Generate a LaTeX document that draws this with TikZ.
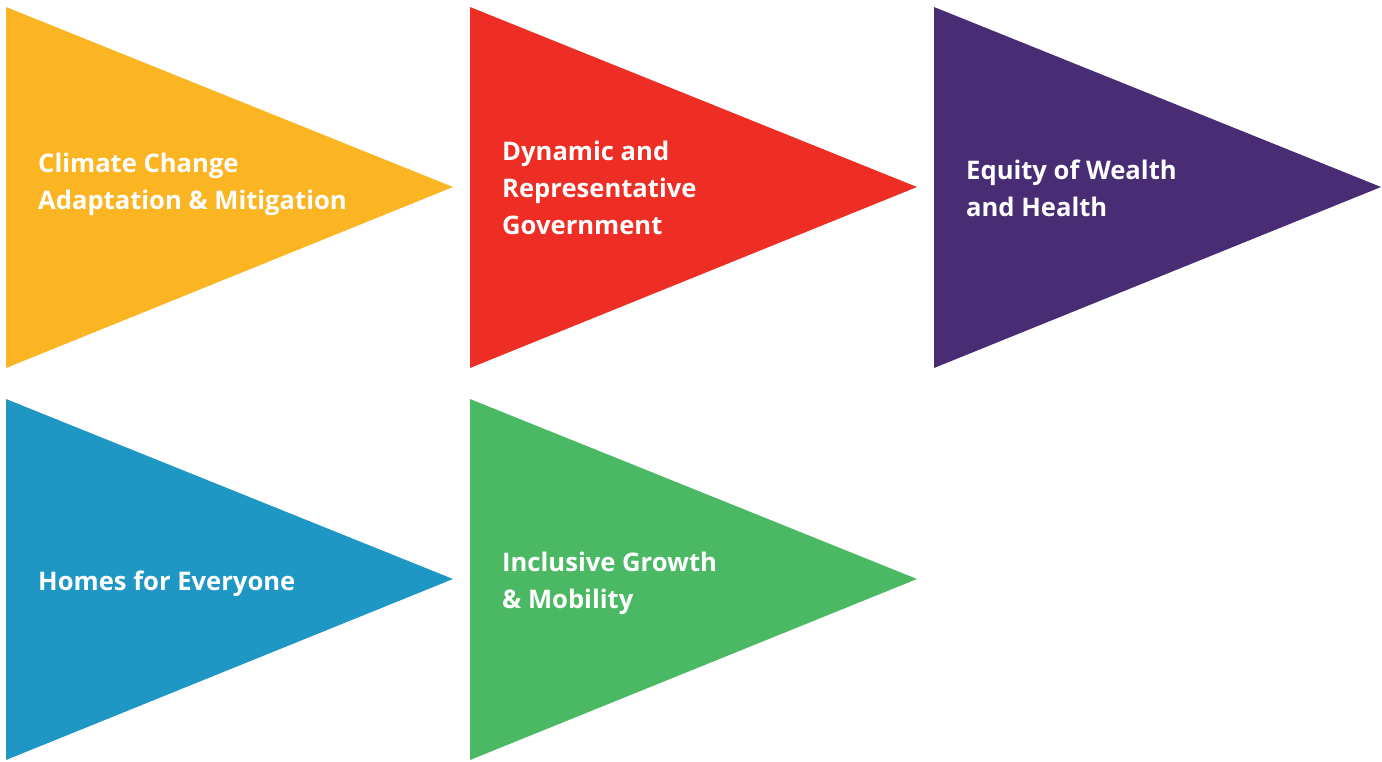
\documentclass[tikz,border=0pt]{standalone}
\usepackage{fontspec}
\setmainfont{Open Sans}[BoldFont={* Bold}]
\usetikzlibrary{positioning}

\definecolor{flagyellow}{HTML}{FBB523}
\definecolor{flagred}{HTML}{EE2E24}
\definecolor{flagpurple}{HTML}{482C74}
\definecolor{flagblue}{HTML}{1F97C5}
\definecolor{flaggreen}{HTML}{4BB964}

\tikzset{
	pennant/.style={fill=#1, draw=none},
	caption/.style={anchor=base west, inner sep=0pt, align=left, text=white,
		font=\bfseries\fontsize{25.6}{37}\selectfont}
}

\begin{document}
\begin{tikzpicture}[x=1pt, y=-1pt]
	\useasboundingbox (0,0) rectangle (1382,761);
	% top row
	\fill[pennant=flagyellow] (6,7) -- (453,187) -- (6,368) -- cycle;
	\fill[pennant=flagred] (470,7) -- (917,187) -- (470,368) -- cycle;
	\fill[pennant=flagpurple] (934,7) -- (1381,187) -- (934,368) -- cycle;
	% bottom row
	\fill[pennant=flagblue] (6,399) -- (453,579) -- (6,760) -- cycle;
	\fill[pennant=flaggreen] (470,399) -- (917,579) -- (470,760) -- cycle;
	% labels (base = last line)
	\node[caption] (climate) at (38,209) {Climate Change\\Adaptation \& Mitigation};
	\node[caption] (govern) at (502,234) {Dynamic and\\Representative\\Government};
	\node[caption] (equity) at (966,216) {Equity of Wealth\\and Health};
	\node[caption] (homes) at (38,590) {Homes for Everyone};
	\node[caption] (growth) at (502,608) {Inclusive Growth\\\& Mobility};
\end{tikzpicture}
\end{document}
